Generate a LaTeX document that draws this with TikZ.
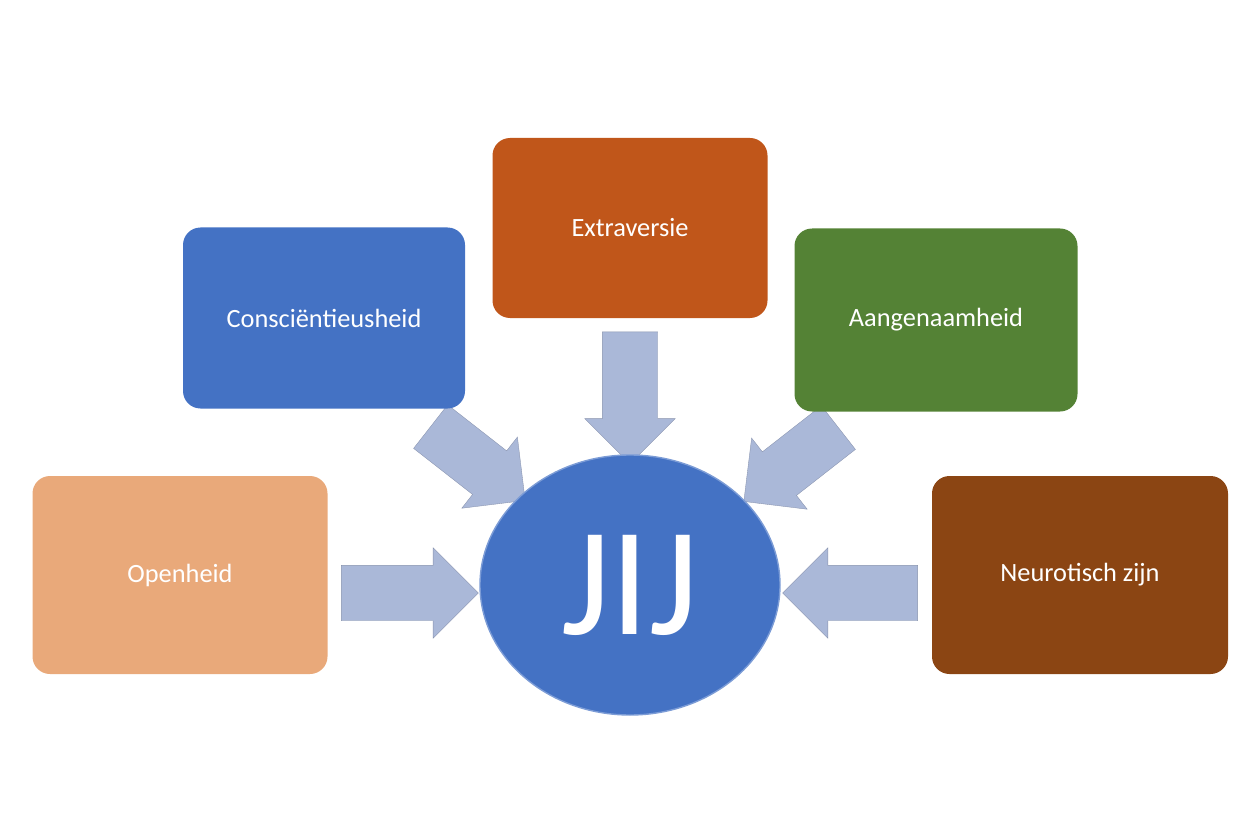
\documentclass[tikz,border=0pt]{standalone}
\usepackage{fontspec}
\setmainfont{Carlito}
\usetikzlibrary{shapes.arrows,shapes.geometric}
\definecolor{extra}{HTML}{C0561A}
\definecolor{consc}{HTML}{4472C4}
\definecolor{aangen}{HTML}{548235}
\definecolor{open}{HTML}{E9A97A}
\definecolor{neuro}{HTML}{8B4513}
\definecolor{pijl}{HTML}{AAB8D8}
\tikzset{
	trait/.style={rounded corners=0.35cm, text=white, font=\fontsize{15}{18}\selectfont},
	blokpijl/.style={single arrow, fill=pijl, draw=pijl!80!black, very thin, inner xsep=0pt, inner ysep=0.55cm,
		single arrow head extend=0.35cm, single arrow head indent=0cm}
}
\begin{document}
\begin{tikzpicture}

		\useasboundingbox (0,0) rectangle (25.2,16.24);

		\node[blokpijl, minimum height=2.74cm] (p1) at (7.92,4.38) {};
		\node[blokpijl, minimum height=2.4cm, rotate=-38] (p2) at (9.34,7.14) {};
		\node[blokpijl, minimum height=2.64cm, rotate=-90] (p3) at (12.6,8.56) {};
		\node[blokpijl, minimum height=2.4cm, rotate=-142] (p4) at (16.04,7.12) {};
		\node[blokpijl, minimum height=2.7cm, rotate=180] (p5) at (17.28,4.38) {};

		\node[trait, fill=extra, minimum width=5.5cm, minimum height=3.6cm] (E) at (12.6,11.68) {Extraversie};
		\node[trait, fill=consc, minimum width=5.64cm, minimum height=3.62cm] (C) at (6.48,9.88) {Consciëntieusheid};
		\node[trait, fill=aangen, minimum width=5.66cm, minimum height=3.66cm] (A) at (18.72,9.84) {Aangenaamheid};
		\node[trait, fill=open, minimum width=5.9cm, minimum height=3.96cm] (O) at (3.6,4.74) {Openheid};
		\node[trait, fill=neuro, minimum width=5.92cm, minimum height=3.96cm] (N) at (21.6,4.74) {Neurotisch zijn};

		\node[ellipse, fill=consc, draw=consc!70!white, thick, minimum width=6cm, minimum height=5.2cm,
			text=white, font=\fontsize{88}{90}\selectfont] (J) at (12.6,4.54) {JIJ};

	\end{tikzpicture}
\end{document}
